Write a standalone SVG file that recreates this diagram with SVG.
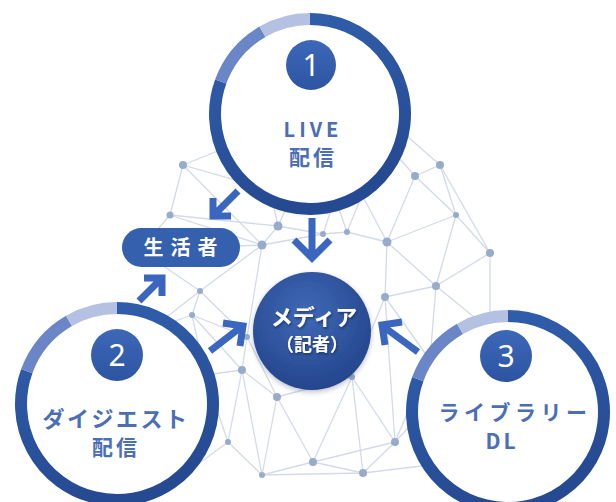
<svg xmlns="http://www.w3.org/2000/svg" width="616" height="502" viewBox="0 0 616 502">
<defs>
<linearGradient id="ringDark" x1="0" y1="0" x2="0.3" y2="1">
<stop offset="0" stop-color="#3160ae"/>
<stop offset="1" stop-color="#264a92"/>
</linearGradient>
<linearGradient id="badgeGrad" x1="0" y1="0" x2="0" y2="1">
<stop offset="0" stop-color="#3d68b8"/>
<stop offset="1" stop-color="#2c54a2"/>
</linearGradient>
<radialGradient id="mediaGrad" cx="0.45" cy="0.35" r="0.7">
<stop offset="0" stop-color="#3f69b6"/>
<stop offset="1" stop-color="#22438a"/>
</radialGradient>
<filter id="shadow" x="-20%" y="-20%" width="140%" height="140%">
<feDropShadow dx="0" dy="2" stdDeviation="2.5" flood-color="#1a2a50" flood-opacity="0.3"/>
</filter>
<filter id="tshadow" x="-20%" y="-20%" width="140%" height="140%">
<feDropShadow dx="1" dy="1.5" stdDeviation="1" flood-color="#0d1a3a" flood-opacity="0.6"/>
</filter>
</defs>
<style>
.net line{stroke:#d3dbe8;stroke-width:1.3}
.dot{fill:#97acca}
.dark{fill:none;stroke:url(#ringDark);stroke-width:12}
.mid{fill:none;stroke:#6a86c7;stroke-width:12}
.light{fill:none;stroke:#b5c1e2;stroke-width:12}
.face{fill:#ffffff}
.badge{fill:url(#badgeGrad)}
.num{font-family:"Noto Sans","DejaVu Sans",sans-serif;font-size:30px;fill:#ffffff;text-anchor:middle}
.lbl{font-family:"Noto Sans CJK JP","Noto Sans",sans-serif;font-weight:bold;fill:#4b6eb5;text-anchor:middle}
.wht{font-family:"Noto Sans CJK JP","Noto Sans",sans-serif;font-weight:bold;fill:#ffffff;text-anchor:middle}
.arr{fill:none;stroke:#3a66c0;stroke-width:7;stroke-linejoin:miter;stroke-linecap:butt}
</style>
<rect width="616" height="502" fill="#ffffff"/>
<g id="network" class="net">
<line x1="183" y1="165" x2="170" y2="215"/>
<line x1="183" y1="165" x2="262" y2="245"/>
<line x1="183" y1="165" x2="245" y2="140"/>
<line x1="183" y1="165" x2="270" y2="190"/>
<line x1="170" y1="215" x2="262" y2="245"/>
<line x1="170" y1="215" x2="140" y2="250"/>
<line x1="170" y1="215" x2="278" y2="226"/>
<line x1="278" y1="226" x2="262" y2="245"/>
<line x1="278" y1="226" x2="323" y2="234"/>
<line x1="278" y1="226" x2="290" y2="200"/>
<line x1="278" y1="226" x2="270" y2="190"/>
<line x1="262" y1="245" x2="323" y2="234"/>
<line x1="262" y1="245" x2="200" y2="291"/>
<line x1="262" y1="245" x2="247" y2="337"/>
<line x1="262" y1="245" x2="140" y2="250"/>
<line x1="323" y1="234" x2="347" y2="232"/>
<line x1="323" y1="234" x2="335" y2="198"/>
<line x1="347" y1="232" x2="387" y2="242"/>
<line x1="347" y1="232" x2="362" y2="195"/>
<line x1="347" y1="232" x2="335" y2="198"/>
<line x1="387" y1="242" x2="415" y2="176"/>
<line x1="387" y1="242" x2="456" y2="215"/>
<line x1="387" y1="242" x2="385" y2="297"/>
<line x1="387" y1="242" x2="436" y2="286"/>
<line x1="387" y1="242" x2="362" y2="195"/>
<line x1="415" y1="176" x2="440" y2="165"/>
<line x1="415" y1="176" x2="392" y2="150"/>
<line x1="415" y1="176" x2="456" y2="215"/>
<line x1="440" y1="165" x2="456" y2="215"/>
<line x1="440" y1="165" x2="400" y2="130"/>
<line x1="440" y1="165" x2="490" y2="253"/>
<line x1="456" y1="215" x2="490" y2="253"/>
<line x1="456" y1="215" x2="436" y2="286"/>
<line x1="490" y1="253" x2="436" y2="286"/>
<line x1="490" y1="253" x2="490" y2="330"/>
<line x1="436" y1="286" x2="385" y2="297"/>
<line x1="436" y1="286" x2="490" y2="330"/>
<line x1="436" y1="286" x2="430" y2="360"/>
<line x1="385" y1="297" x2="352" y2="377"/>
<line x1="385" y1="297" x2="395" y2="442"/>
<line x1="385" y1="297" x2="430" y2="360"/>
<line x1="200" y1="291" x2="192" y2="315"/>
<line x1="200" y1="291" x2="140" y2="250"/>
<line x1="200" y1="291" x2="150" y2="330"/>
<line x1="200" y1="291" x2="247" y2="337"/>
<line x1="192" y1="315" x2="247" y2="337"/>
<line x1="192" y1="315" x2="242" y2="370"/>
<line x1="192" y1="315" x2="150" y2="330"/>
<line x1="192" y1="315" x2="205" y2="375"/>
<line x1="247" y1="337" x2="242" y2="370"/>
<line x1="247" y1="337" x2="277" y2="397"/>
<line x1="242" y1="370" x2="277" y2="397"/>
<line x1="242" y1="370" x2="228" y2="442"/>
<line x1="242" y1="370" x2="205" y2="375"/>
<line x1="242" y1="370" x2="262" y2="475"/>
<line x1="277" y1="397" x2="352" y2="377"/>
<line x1="277" y1="397" x2="313" y2="462"/>
<line x1="277" y1="397" x2="262" y2="475"/>
<line x1="352" y1="377" x2="313" y2="462"/>
<line x1="352" y1="377" x2="363" y2="473"/>
<line x1="352" y1="377" x2="395" y2="442"/>
<line x1="228" y1="442" x2="262" y2="475"/>
<line x1="228" y1="442" x2="190" y2="470"/>
<line x1="228" y1="442" x2="205" y2="375"/>
<line x1="262" y1="475" x2="313" y2="462"/>
<line x1="262" y1="475" x2="363" y2="473"/>
<line x1="313" y1="462" x2="363" y2="473"/>
<line x1="313" y1="462" x2="395" y2="442"/>
<line x1="363" y1="473" x2="395" y2="442"/>
<line x1="363" y1="473" x2="430" y2="465"/>
<line x1="395" y1="442" x2="425" y2="410"/>
<line x1="395" y1="442" x2="430" y2="360"/>
<circle class="dot" cx="183" cy="165" r="4"/>
<circle class="dot" cx="170" cy="215" r="3.5"/>
<circle class="dot" cx="278" cy="226" r="4.5"/>
<circle class="dot" cx="262" cy="245" r="4.5"/>
<circle class="dot" cx="323" cy="234" r="3"/>
<circle class="dot" cx="347" cy="232" r="3"/>
<circle class="dot" cx="387" cy="242" r="4.5"/>
<circle class="dot" cx="415" cy="176" r="4"/>
<circle class="dot" cx="440" cy="165" r="4"/>
<circle class="dot" cx="456" cy="215" r="3"/>
<circle class="dot" cx="490" cy="253" r="4"/>
<circle class="dot" cx="436" cy="286" r="4"/>
<circle class="dot" cx="385" cy="297" r="4"/>
<circle class="dot" cx="200" cy="291" r="3"/>
<circle class="dot" cx="192" cy="315" r="3"/>
<circle class="dot" cx="247" cy="337" r="3"/>
<circle class="dot" cx="242" cy="370" r="4"/>
<circle class="dot" cx="277" cy="397" r="4"/>
<circle class="dot" cx="352" cy="377" r="3"/>
<circle class="dot" cx="228" cy="442" r="3"/>
<circle class="dot" cx="262" cy="475" r="3"/>
<circle class="dot" cx="313" cy="462" r="4"/>
<circle class="dot" cx="363" cy="473" r="4"/>
<circle class="dot" cx="395" cy="442" r="4"/>
</g>
<g id="connectors">
<path class="arr" d="M238,191 L214,215 M231,216 L213,216 L213,198"/>
<path class="arr" d="M312,218 L312,256 M294,240 L312,258 L330,240"/>
<path class="arr" d="M139,301 L161,279 M144,278 L162,278 L162,296"/>
<path class="arr" d="M210,351 L241,327 M223,323 L243,326 L240,346"/>
<path class="arr" d="M418,352 L384,327 M385,345 L382,325 L402,322"/>
</g>
<g id="node-live">
<circle class="face" cx="310" cy="114" r="96" filter="url(#shadow)"/>
<path class="dark" d="M310,19 A95,95 0 1 1 220.73,81.51"/>
<path class="mid" d="M220.73,81.51 A95,95 0 0 1 262.5,31.73"/>
<path class="light" d="M262.5,31.73 A95,95 0 0 1 310,19"/>
<circle class="badge" cx="311" cy="65" r="25"/>
<text class="num" x="311" y="76">1</text>
<text class="lbl" x="313" y="137" font-size="20" letter-spacing="4">LIVE</text>
<text class="lbl" x="313" y="165" font-size="21" letter-spacing="3">配信</text>
</g>
<g id="node-digest">
<circle class="face" cx="117" cy="404" r="96" filter="url(#shadow)"/>
<path class="dark" d="M117,308 A96,96 0 1 1 26.79,371.17"/>
<path class="mid" d="M26.79,371.17 A96,96 0 0 1 69,320.86"/>
<path class="light" d="M69,320.86 A96,96 0 0 1 117,308"/>
<circle class="badge" cx="117" cy="355" r="26"/>
<text class="num" x="117" y="366">2</text>
<text class="lbl" x="116" y="427" font-size="22" letter-spacing="2.5">ダイジエスト</text>
<text class="lbl" x="116" y="455" font-size="21" letter-spacing="3">配信</text>
</g>
<g id="node-library">
<circle class="face" cx="508" cy="412" r="96" filter="url(#shadow)"/>
<path class="dark" d="M508,316 A96,96 0 1 1 417.79,379.17"/>
<path class="mid" d="M417.79,379.17 A96,96 0 0 1 460,328.86"/>
<path class="light" d="M460,328.86 A96,96 0 0 1 508,316"/>
<circle class="badge" cx="506" cy="356" r="26"/>
<text class="num" x="506" y="367">3</text>
<text class="lbl" x="515" y="420" font-size="21" letter-spacing="4.5">ライブラリー</text>
<text class="lbl" x="502" y="449" font-size="21" letter-spacing="3">DL</text>
</g>
<g id="node-media">
<circle cx="312" cy="331" r="59" fill="url(#mediaGrad)" filter="url(#shadow)"/>
<text class="wht" x="314" y="325" font-size="22" filter="url(#tshadow)">メディア</text>
<text class="wht" x="312" y="351" font-size="18" filter="url(#tshadow)">（記者）</text>
</g>
<g id="node-seikatsusha">
<rect x="122" y="228" width="118" height="39" rx="19.5" fill="#3560ad"/>
<text class="wht" x="184" y="255" font-size="20" letter-spacing="7">生活者</text>
</g>
</svg>
